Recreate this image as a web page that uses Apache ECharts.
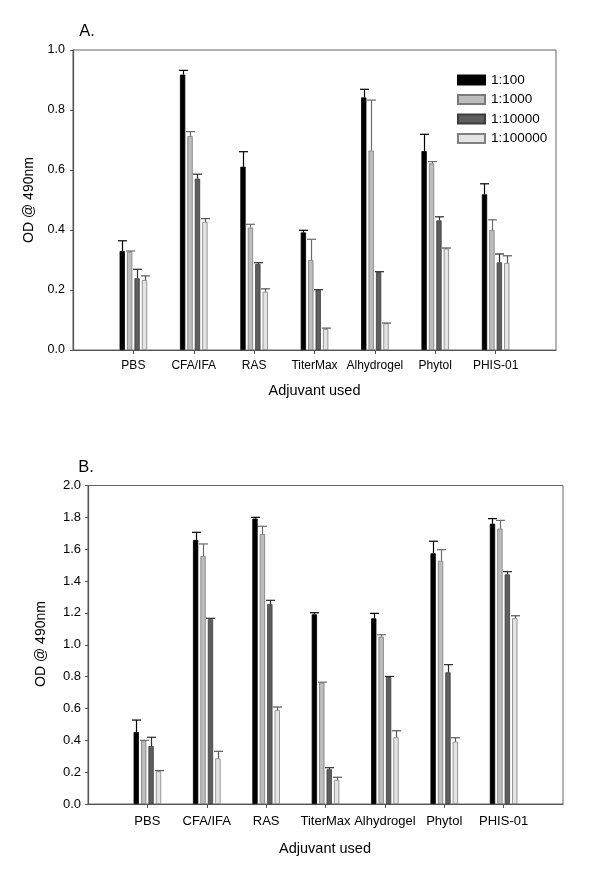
<!DOCTYPE html>
<html>
<head>
<meta charset="utf-8">
<script src="https://cdn.jsdelivr.net/npm/echarts@6/dist/echarts.min.js"></script>
<style>
html,body{margin:0;padding:0;background:#fff;}
#chart{width:600px;height:886px;}
</style>
</head>
<body>
<div id="chart"></div>
<script>
// ---------- data ----------
const categories = ['PBS', 'CFA/IFA', 'RAS', 'TiterMax', 'Alhydrogel', 'Phytol', 'PHIS-01'];
const dilutions = ['1:100', '1:1000', '1:10000', '1:100000'];

// Panel A means and (upper) errors
const a100      = [0.330, 0.918, 0.611, 0.392, 0.842, 0.663, 0.519];
const a100Err   = [0.034, 0.014, 0.050, 0.007, 0.027, 0.056, 0.035];
const a1000     = [0.328, 0.713, 0.408, 0.300, 0.665, 0.622, 0.400];
const a1000Err  = [0.002, 0.015, 0.011, 0.069, 0.168, 0.006, 0.034];
const a10000    = [0.239, 0.571, 0.287, 0.200, 0.260, 0.432, 0.292];
const a10000Err = [0.030, 0.015, 0.004, 0.001, 0.001, 0.012, 0.028];
const a100000   = [0.233, 0.427, 0.194, 0.070, 0.089, 0.338, 0.290];
const a100000Err= [0.014, 0.011, 0.010, 0.003, 0.001, 0.002, 0.024];

// Panel B means and (upper) errors
const b100      = [0.452, 1.658, 1.792, 1.191, 1.166, 1.574, 1.760];
const b100Err   = [0.075, 0.048, 0.008, 0.010, 0.031, 0.076, 0.032];
const b1000     = [0.398, 1.557, 1.695, 0.762, 1.051, 1.528, 1.729];
const b1000Err  = [0.002, 0.076, 0.049, 0.003, 0.012, 0.069, 0.052];
const b10000    = [0.364, 1.160, 1.256, 0.218, 0.800, 0.827, 1.442];
const b10000Err = [0.055, 0.006, 0.023, 0.010, 0.001, 0.048, 0.017];
const b100000   = [0.205, 0.287, 0.590, 0.151, 0.419, 0.391, 1.166];
const b100000Err= [0.005, 0.044, 0.019, 0.017, 0.041, 0.025, 0.016];

const yTicksA = [0.0, 0.2, 0.4, 0.6, 0.8, 1.0];
const yTicksB = [0.0, 0.2, 0.4, 0.6, 0.8, 1.0, 1.2, 1.4, 1.6, 1.8, 2.0];

// ---------- styles ----------
const FONT = '"Liberation Sans", Arial, sans-serif';
const fills   = ['#000000', '#bdbdbd', '#5e5e5e', '#e4e4e4'];
const borders = ['#000000', '#7a7a7a', '#3c3c3c', '#808080'];
const errCol  = ['#000000', '#6a6a6a', '#2a2a2a', '#555555'];
const BAR_W = 5.3;
const BAR_GAP = 0.40;
const STEP = BAR_W * (1 + BAR_GAP);
const CAP = 4.5;

const axisCats = [''].concat(categories, ['']);

const panels = [
  { means: [a100, a1000, a10000, a100000], errs: [a100Err, a1000Err, a10000Err, a100000Err], max: 1.0, ticks: yTicksA },
  { means: [b100, b1000, b10000, b100000], errs: [b100Err, b1000Err, b10000Err, b100000Err], max: 2.0, ticks: yTicksB }
];

const grids = [
  { left: 73, top: 50, width: 483, height: 300 },
  { left: 88, top: 485.5, width: 475, height: 318.5 }
];

const xAxes = grids.map((g, gi) => ({
  type: 'category', gridIndex: gi, data: axisCats, boundaryGap: false,
  axisLine: { lineStyle: { color: '#555', width: 1.2 } },
  axisTick: { length: 4, lineStyle: { color: '#555' }, interval: (i) => i > 0 && i < axisCats.length - 1 },
  axisLabel: { color: '#000', fontFamily: FONT, fontSize: gi === 0 ? 12 : 13, margin: gi === 0 ? 10 : 11, interval: 0 },
  splitLine: { show: false }
}));

const yAxes = grids.map((g, gi) => ({
  type: 'value', gridIndex: gi, min: 0, max: panels[gi].max, interval: panels[gi].ticks[1] - panels[gi].ticks[0],
  axisLine: { show: true, lineStyle: { color: '#555', width: 1.2 } },
  axisTick: { show: true, length: 3, lineStyle: { color: '#555' } },
  axisLabel: { color: '#000', fontFamily: FONT, fontSize: gi === 0 ? 12.5 : 13, margin: gi === 0 ? 8 : 7,
               formatter: (v) => v.toFixed(1) },
  splitLine: { show: false }
}));

const series = [];
panels.forEach((p, gi) => {
  p.means.forEach((vals, si) => {
    series.push({
      type: 'bar', name: dilutions[si], xAxisIndex: gi, yAxisIndex: gi,
      data: [null].concat(vals, [null]),
      barWidth: BAR_W, barGap: (BAR_GAP * 100) + '%',
      itemStyle: { color: fills[si], borderColor: borders[si], borderWidth: 0.8 },
      emphasis: { disabled: true }, animation: false
    });
  });
  p.means.forEach((vals, si) => {
    const errs = p.errs[si];
    series.push({
      type: 'custom', name: 'err' + gi + '_' + si, xAxisIndex: gi, yAxisIndex: gi, z: 5,
      data: vals.map((v, i) => [i + 1, v, v + errs[i]]),
      animation: false, silent: true,
      renderItem: (params, api) => {
        const base = api.coord([api.value(0), api.value(1)]);
        const top = api.coord([api.value(0), api.value(2)]);
        const x = Math.round(base[0] + (si - 1.5) * STEP) + 0.5;
        const st = { stroke: errCol[si], lineWidth: 1.2 };
        return {
          type: 'group', children: [
            { type: 'line', shape: { x1: x, y1: base[1], x2: x, y2: top[1] }, style: st },
            { type: 'line', shape: { x1: x - CAP, y1: top[1], x2: x + CAP, y2: top[1] }, style: st }
          ]
        };
      }
    });
  });
});

function txt(x, y, text, size, rot) {
  return {
    type: 'text', x: x, y: y, rotation: rot || 0,
    style: { text: text, font: size + 'px ' + FONT, fill: '#000', align: 'center', verticalAlign: 'middle' }
  };
}

const option = {
  backgroundColor: '#fff',
  animation: false,
  grid: grids.map(g => Object.assign({ show: true, borderColor: '#666', borderWidth: 1, backgroundColor: 'transparent' }, g)),
  xAxis: xAxes,
  yAxis: yAxes,
  legend: {
    data: dilutions, orient: 'vertical', left: 452, top: 68,
    itemWidth: 27, itemHeight: 9, itemGap: 5.5, icon: 'rect',
    textStyle: { fontFamily: FONT, fontSize: 13.5, color: '#000', padding: [0, 0, 0, 1] },
    selectedMode: false
  },
  graphic: [
    txt(87, 31, 'A.', 16.5),
    txt(86, 467, 'B.', 16.5),
    txt(314.5, 391, 'Adjuvant used', 14.5),
    txt(325, 849, 'Adjuvant used', 14.5),
    txt(29, 200, 'OD @ 490nm', 14, Math.PI / 2),
    txt(41, 644, 'OD @ 490nm', 14, Math.PI / 2)
  ],
  series: series
};

const chart = echarts.init(document.getElementById('chart'), null, { renderer: 'canvas' });
chart.setOption(option);
</script>
</body>
</html>
